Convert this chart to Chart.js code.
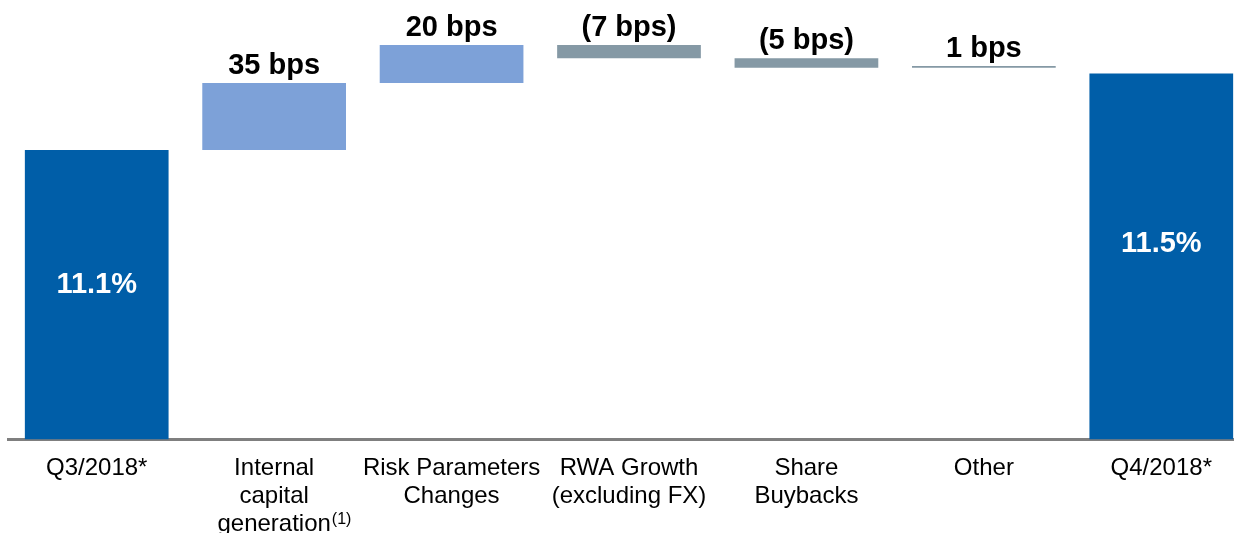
<!DOCTYPE html>
<html>
<head>
<meta charset="utf-8">
<title>CET1 ratio walk Q3/2018 to Q4/2018</title>
<script src="https://cdn.jsdelivr.net/npm/chart.js@4/dist/chart.umd.min.js"></script>
<style>
  html, body { margin: 0; padding: 0; background: #ffffff; overflow: hidden; }
  #wrap { position: relative; width: 1250px; height: 533px; }
</style>
</head>
<body>
<div id="wrap"><canvas id="walk"></canvas></div>
<script>
// Category labels (multi-line ticks)
const categories = [
  ['Q3/2018*'],
  ['Internal', 'capital', 'generation'],
  ['Risk Parameters', 'Changes'],
  ['RWA Growth', '(excluding FX)'],
  ['Share', 'Buybacks'],
  ['Other'],
  ['Q4/2018*']
];
// Footnote marker shown after the "generation" line
const footnoteMarks = ['', '(1)', '', '', '', '', ''];

// Opening and closing ratios, in percent
const openingRatio = 11.1;
const closingRatio = 11.5;
// Movements in basis points, one per step category
const stepsBps = [35, 20, -7, -5, 1];

// Visible window of the value axis (percent)
const AXIS_MIN = 9.584;
const AXIS_MAX = 11.885;

const COLOR_TOTAL = '#005EA8';
const COLOR_UP = '#7DA1D8';
const COLOR_DOWN = '#8599A5';

// Build floating bars: totals start at the axis floor, steps float on the running level
const bars = [];
const colors = [];
const barLabels = [];
bars.push([AXIS_MIN, openingRatio]);
colors.push(COLOR_TOTAL);
barLabels.push(openingRatio.toFixed(1) + '%');
let level = openingRatio;
stepsBps.forEach((bps, i) => {
  const next = level + bps / 100;
  bars.push([level, next]);
  colors.push(i < 2 ? COLOR_UP : COLOR_DOWN);
  barLabels.push(bps >= 0 ? bps + ' bps' : '(' + (-bps) + ' bps)');
  level = next;
});
bars.push([AXIS_MIN, closingRatio]);
colors.push(COLOR_TOTAL);
barLabels.push(closingRatio.toFixed(1) + '%');

const FONT = "Arial, 'Liberation Sans', Helvetica, sans-serif";
const TICK_SIZE = 24;
const TICK_LINE = 28;
const TICK_PAD = 15;

// Value labels: white inside the total bars, black above the step bars
const valueLabels = {
  id: 'valueLabels',
  afterDatasetsDraw(chart) {
    const ctx = chart.ctx;
    const meta = chart.getDatasetMeta(0);
    const last = meta.data.length - 1;
    ctx.save();
    ctx.textAlign = 'center';
    ctx.font = 'bold 29px ' + FONT;
    meta.data.forEach((bar, i) => {
      const top = Math.min(bar.y, bar.base);
      const bottom = Math.max(bar.y, bar.base);
      if (i === 0 || i === last) {
        ctx.fillStyle = '#ffffff';
        ctx.textBaseline = 'middle';
        ctx.fillText(barLabels[i], bar.x, top + (bottom - top) * 0.465);
      } else {
        ctx.fillStyle = '#000000';
        ctx.textBaseline = 'alphabetic';
        ctx.fillText(barLabels[i], bar.x, top - 9);
      }
    });
    ctx.restore();
  }
};

// Superscript footnote markers next to the last line of a tick label
const footnotes = {
  id: 'footnotes',
  afterDraw(chart) {
    const ctx = chart.ctx;
    const xs = chart.scales.x;
    ctx.save();
    footnoteMarks.forEach((mark, i) => {
      if (!mark) return;
      const lines = categories[i];
      const lastLine = lines[lines.length - 1];
      ctx.font = TICK_SIZE + 'px ' + FONT;
      const w = ctx.measureText(lastLine).width;
      const x = xs.getPixelForTick(i) + w / 2 + 1;
      const lineCenter = xs.top + TICK_PAD + TICK_LINE * (lines.length - 0.5);
      ctx.font = '16px ' + FONT;
      ctx.fillStyle = '#000000';
      ctx.textAlign = 'left';
      ctx.textBaseline = 'alphabetic';
      ctx.fillText(mark, x, lineCenter - 1);
    });
    ctx.restore();
  }
};

new Chart(document.getElementById('walk'), {
  type: 'bar',
  data: {
    labels: categories,
    datasets: [{
      data: bars,
      backgroundColor: colors,
      borderWidth: 0,
      borderSkipped: false,
      categoryPercentage: 0.81,
      barPercentage: 1.0
    }]
  },
  options: {
    responsive: true,
    maintainAspectRatio: false,
    animation: false,
    layout: { padding: { left: 8, right: 0, top: 0, bottom: 0 } },
    plugins: {
      legend: { display: false },
      tooltip: { enabled: false }
    },
    scales: {
      x: {
        z: 1,
        grid: { display: false, drawTicks: false },
        border: { display: true, color: '#7F7F7F', width: 3 },
        ticks: {
          color: '#000000',
          padding: TICK_PAD,
          maxRotation: 0,
          autoSkip: false,
          font: { family: FONT, size: TICK_SIZE, lineHeight: TICK_LINE / TICK_SIZE }
        },
        afterFit(scale) { scale.height = 93.5; }
      },
      y: {
        display: false,
        min: AXIS_MIN,
        max: AXIS_MAX
      }
    }
  },
  plugins: [valueLabels, footnotes]
});
</script>
</body>
</html>
